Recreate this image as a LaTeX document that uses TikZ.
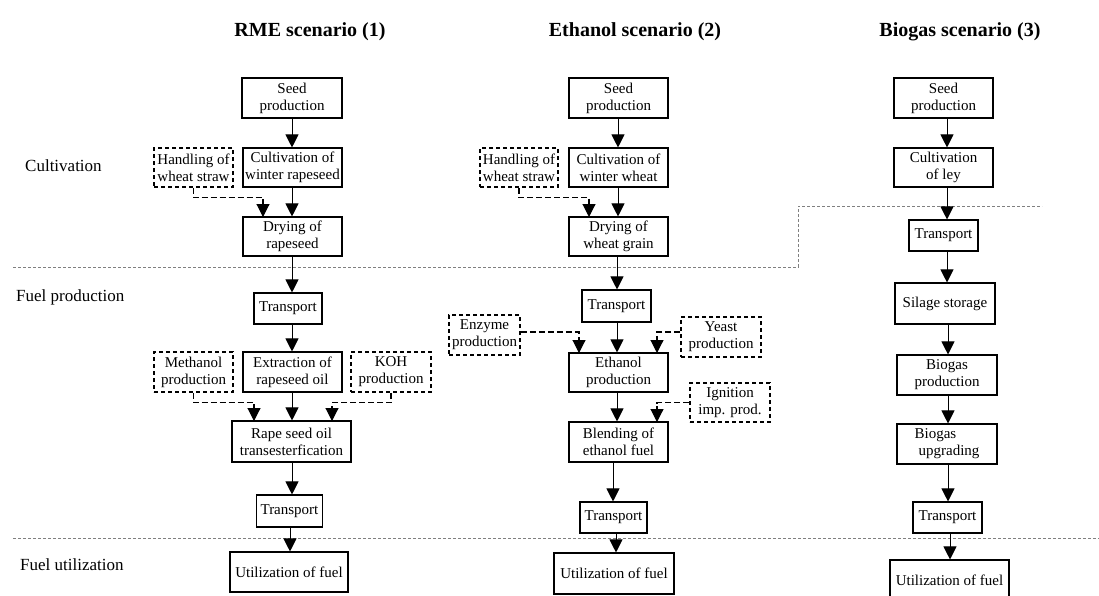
\documentclass[tikz,border=0pt]{standalone}
\usepackage{fontspec}
\setmainfont{Liberation Serif}
\usetikzlibrary{arrows.meta}
\begin{document}
\begin{tikzpicture}[x=1pt,y=-1pt,
 box/.style={draw, line width=1.1pt, align=center, inner sep=0pt, font=\fontsize{15}{17}\selectfont},
 dbox/.style={box, line width=1.7pt, dash pattern=on 4pt off 3pt},
 flow/.style={line width=1pt, -{Triangle[length=13pt,width=13pt]}},
 dflow/.style={flow, line width=1.1pt, dash pattern=on 6pt off 3pt},
 sep/.style={gray, line width=0.7pt, dash pattern=on 3pt off 2pt},
 title/.style={font=\fontsize{20}{24}\selectfont\bfseries},
 stage/.style={anchor=west, font=\fontsize{17}{20}\selectfont, inner sep=0pt}]
\clip (0,0) rectangle (1099,595);
\useasboundingbox (0,0) rectangle (1099,595);

% separators
\draw[sep] (13,267) -- (798,267) -- (798,206) -- (1042,206);
\draw[sep] (13,538) -- (1099,538);

% titles and stages
\node[title] (t1) at (310,32) {RME scenario (1)};
\node[title] (t2) at (635,32) {Ethanol scenario (2)};
\node[title] (t3) at (960,32) {Biogas scenario (3)};
\node[stage] (s1) at (25,166) {Cultivation};
\node[stage] (s2) at (16,297) {Fuel production};
\node[stage] (s3) at (20,565) {Fuel utilization};

% RME column
\node[box, minimum width=100pt, minimum height=40pt] (rseed) at (292,98) {Seed\\production};
\node[box, minimum width=99pt, minimum height=39pt] (rcult) at (292.5,167.5) {Cultivation of\\winter rapeseed};
\node[dbox, minimum width=79pt, minimum height=39pt] (rhand) at (193.5,167.5) {Handling of\\wheat straw};
\node[box, minimum width=99pt, minimum height=39pt] (rdry) at (292.5,236.5) {Drying of\\rapeseed};
\node[box, minimum width=68pt, minimum height=31pt] (rtr1) at (288,308.5) {Transport};
\node[dbox, minimum width=79pt, minimum height=40pt] (rmeth) at (193.5,372) {Methanol\\production};
\node[box, minimum width=99pt, minimum height=40pt] (rext) at (292.5,372) {Extraction of\\rapeseed oil};
\node[dbox, minimum width=80pt, minimum height=40pt] (rkoh) at (391,372) {KOH\\production};
\node[box, minimum width=119pt, minimum height=41pt] (rrape) at (291.5,441.5) {Rape seed oil\\transesterfication};
\node[box, minimum width=66pt, minimum height=32pt] (rtr2) at (289.5,511) {Transport};
\node[box, minimum width=118pt, minimum height=40pt] (rutil) at (289,572) {Utilization of fuel};

\draw[flow] (rseed.south -| 292,0) -- (rcult.north -| 292,0);
\draw[flow] (rcult.south -| 292,0) -- (rdry.north -| 292,0);
\draw[dflow] (rhand.south) -- ++(0,10) -| (263,217);
\draw[flow] (rdry.south -| 292,0) -- (rtr1.north -| 292,0);
\draw[flow] (rtr1.south -| 292,0) -- (rext.north -| 292,0);
\draw[flow] (rext.south -| 292,0) -- (rrape.north -| 292,0);
\draw[dflow] (rmeth.south) -- ++(0,10) -| (254,421);
\draw[dflow] (rkoh.south) -- ++(0,10) -| (332,421);
\draw[flow] (rrape.south -| 292,0) -- (rtr2.north -| 292,0);
\draw[flow] (rtr2.south -| 290,0) -- (rutil.north -| 290,0);

% Ethanol column
\node[box, minimum width=99pt, minimum height=40pt] (eseed) at (618.5,98) {Seed\\production};
\node[box, minimum width=99pt, minimum height=39pt] (ecult) at (618.5,167.5) {Cultivation of\\winter wheat};
\node[dbox, minimum width=78pt, minimum height=39pt] (ehand) at (519,167.5) {Handling of\\wheat straw};
\node[box, minimum width=99pt, minimum height=39pt] (edry) at (618.5,236.5) {Drying of\\wheat grain};
\node[box, minimum width=69pt, minimum height=32pt] (etr1) at (616.5,306) {Transport};
\node[dbox, minimum width=71pt, minimum height=40pt] (eenz) at (484.5,335) {Enzyme\\production};
\node[dbox, minimum width=80pt, minimum height=40pt] (eyeast) at (721,337) {Yeast\\production};
\node[box, minimum width=99pt, minimum height=39pt] (eeth) at (618.5,372.5) {Ethanol\\production};
\node[dbox, minimum width=80pt, minimum height=39pt] (eign) at (730,402.5) {Ignition\\imp. prod.};
\node[box, minimum width=99pt, minimum height=40pt] (eblend) at (618.5,442) {Blending of\\ethanol fuel};
\node[box, minimum width=67pt, minimum height=31pt] (etr2) at (613.5,517.5) {Transport};
\node[box, minimum width=120pt, minimum height=41pt] (eutil) at (614,573.5) {Utilization of fuel};

\draw[flow] (eseed.south -| 618,0) -- (ecult.north -| 618,0);
\draw[flow] (ecult.south -| 618,0) -- (edry.north -| 618,0);
\draw[dflow] (ehand.south) -- ++(0,10) -| (589,217);
\draw[flow] (edry.south -| 617,0) -- (etr1.north -| 617,0);
\draw[flow] (etr1.south -| 617,0) -- (eeth.north -| 617,0);
\draw[dflow] (eenz.east |- 0,332) -| (579,353);
\draw[dflow] (eyeast.west |- 0,332) -| (657,353);
\draw[flow] (eeth.south -| 617,0) -- (eblend.north -| 617,0);
\draw[dflow] (eign.west) -| (657,422);
\draw[flow] (eblend.south -| 613,0) -- (etr2.north -| 613,0);
\draw[flow] (etr2.south -| 616,0) -- (eutil.north -| 616,0);

% Biogas column
\node[box, minimum width=99pt, minimum height=40pt] (bseed) at (943.5,98) {Seed\\production};
\node[box, minimum width=99pt, minimum height=39pt] (bcult) at (943.5,167.5) {Cultivation\\of ley};
\node[box, minimum width=69pt, minimum height=31pt] (btr1) at (943.5,235.5) {Transport};
\node[box, minimum width=100pt, minimum height=41pt] (bsil) at (945,303.5) {Silage storage};
\node[box, minimum width=100pt, minimum height=40pt] (bbio) at (947,375) {Biogas\\production};
\node[box, minimum width=100pt, minimum height=40pt, align=left] (bupg) at (947,444) {Biogas\\\hspace*{4pt}upgrading};
\node[box, minimum width=69pt, minimum height=31pt] (btr2) at (947.5,517.5) {Transport};
\node[box, minimum width=119pt, minimum height=40pt] (butil) at (949.5,580) {Utilization of fuel};

\draw[flow] (bseed.south -| 947,0) -- (bcult.north -| 947,0);
\draw[flow] (bcult.south -| 947,0) -- (btr1.north -| 947,0);
\draw[flow] (btr1.south -| 947,0) -- (bsil.north -| 947,0);
\draw[flow] (bsil.south -| 948,0) -- (bbio.north -| 948,0);
\draw[flow] (bbio.south -| 948,0) -- (bupg.north -| 948,0);
\draw[flow] (bupg.south -| 948,0) -- (btr2.north -| 948,0);
\draw[flow] (btr2.south -| 950,0) -- (butil.north -| 950,0);
\end{tikzpicture}
\end{document}
